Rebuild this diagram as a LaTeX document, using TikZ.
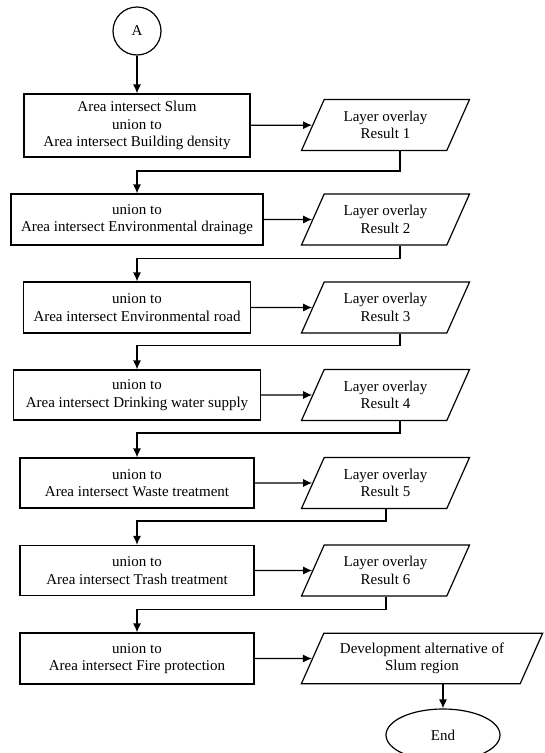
\documentclass[tikz,border=0pt]{standalone}
\usepackage{fontspec}
\setmainfont{Liberation Serif}
\usetikzlibrary{shapes.geometric,arrows.meta,positioning}

\begin{document}
\begin{tikzpicture}[x=1pt, y=-1pt, line width=1.2pt,
    every node/.style = {font=\fontsize{15}{17.5}\selectfont, align=center},
    proc/.style = {draw, rectangle, inner sep=0pt},
    io/.style = {draw, trapezium, trapezium left angle=66, trapezium right angle=114,
                 minimum height=50pt, inner xsep=0pt},
    arr/.style = {-{Latex[length=9pt,width=8pt]}}]
      \useasboundingbox (0,0) rectangle (545,753);

      \node[draw, circle, minimum size=48pt, inner sep=0pt] (a) at (137,31) {A};

      \node[proc, minimum width=226pt, minimum height=63pt] (b1) at (137,125.5)
        {Area intersect Slum\\union to\\Area intersect Building density};
      \node[io, minimum width=168pt] (r1) at (385.5,125) {Layer overlay\\Result 1};

      \node[proc, minimum width=252pt, minimum height=51pt] (b2) at (137,219.5)
        {union to\\Area intersect Environmental drainage};
      \node[io, minimum width=168pt] (r2) at (385.5,219.5) {Layer overlay\\Result 2};

      \node[proc, minimum width=227pt, minimum height=51pt] (b3) at (137,307.5)
        {union to\\Area intersect Environmental road};
      \node[io, minimum width=168pt] (r3) at (385.5,307.5) {Layer overlay\\Result 3};

      \node[proc, minimum width=247pt, minimum height=50pt] (b4) at (137,395)
        {union to\\Area intersect Drinking water supply};
      \node[io, minimum width=168pt] (r4) at (385.5,395) {Layer overlay\\Result 4};

      \node[proc, minimum width=234pt, minimum height=50pt] (b5) at (137,483)
        {union to\\Area intersect Waste treatment};
      \node[io, minimum width=168pt] (r5) at (385.5,483) {Layer overlay\\Result 5};

      \node[proc, minimum width=234pt, minimum height=50pt] (b6) at (137,570.5)
        {union to\\Area intersect Trash treatment};
      \node[io, minimum width=168pt] (r6) at (385.5,570.5) {Layer overlay\\Result 6};

      \node[proc, minimum width=234pt, minimum height=51pt] (b7) at (137,658.5)
        {union to\\Area intersect Fire protection};
      \node[io, minimum width=242pt, inner xsep=-8pt] (dev) at (422,658.5)
        {Development alternative of\\Slum region};

      \node[draw, ellipse, minimum width=114pt, minimum height=52pt] (end) at (443,735) {End};

      % main flow
      \draw[arr] (a) -- (b1);
      \draw[arr] (b1) -- (r1);
      \draw[arr] (b2) -- (r2);
      \draw[arr] (b3) -- (r3);
      \draw[arr] (b4) -- (r4);
      \draw[arr] (b5) -- (r5);
      \draw[arr] (b6) -- (r6);
      \draw[arr] (b7) -- (dev);
      \draw[arr] (dev.south -| end.north) -- (end);

      % back to the left column
      \draw[arr] ([xshift=14.5pt]r1.south) -- ++(0,20) -| (b2.north);
      \draw[arr] ([xshift=14.5pt]r2.south) -- ++(0,13) -| (b3.north);
      \draw[arr] ([xshift=14.5pt]r3.south) -- ++(0,12) -| (b4.north);
      \draw[arr] ([xshift=14.5pt]r4.south) -- ++(0,12) -| (b5.north);
      \draw[arr] ([xshift=0.5pt]r5.south) -- ++(0,12) -| (b6.north);
      \draw[arr] ([xshift=0.5pt]r6.south) -- ++(0,13) -| (b7.north);
    \end{tikzpicture}
\end{document}
